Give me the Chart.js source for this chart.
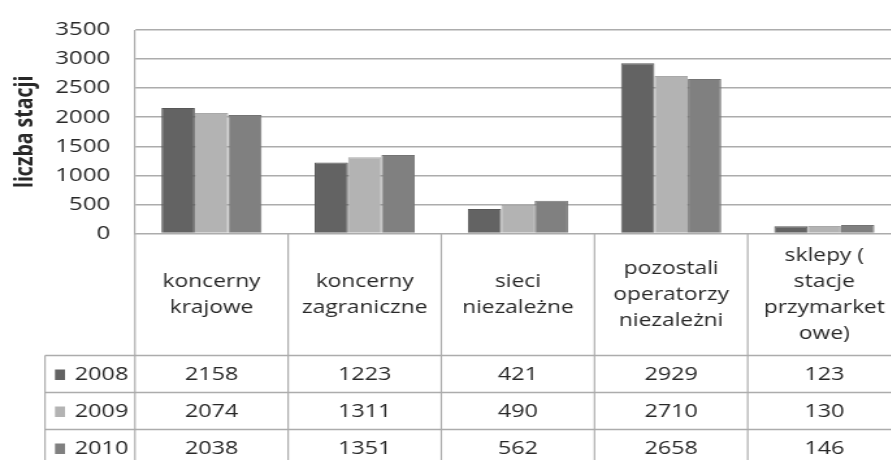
<!DOCTYPE html>
<html>
<head>
<meta charset="utf-8">
<script src="https://cdn.jsdelivr.net/npm/chart.js@4/dist/chart.umd.min.js"></script>
<style>
  html, body { margin: 0; padding: 0; background: #fff; overflow: hidden; width: 891px; height: 460px; }
  /* the drawing is laid out narrow and widened horizontally */
  #wrap { position: absolute; left: 0; top: 0; width: 693px; height: 460px; transform: scaleX(1.3); transform-origin: 0 0; }
</style>
</head>
<body>
<div id="wrap"><canvas id="chart"></canvas></div>
<script>
// Categories of fuel-station operators (multi-line labels)
const categories = [
  ['koncerny', 'krajowe'],
  ['koncerny', 'zagraniczne'],
  ['sieci', 'niezależne'],
  ['pozostali', 'operatorzy', 'niezależni'],
  ['sklepy (', 'stacje', 'przymarket', 'owe)']
];
const years = ['2008', '2009', '2010'];
const stations2008 = [2158, 1223, 421, 2929, 123];
const stations2009 = [2074, 1311, 490, 2710, 130];
const stations2010 = [2038, 1351, 562, 2658, 146];
const yMin = 0, yMax = 3500, yStep = 500;
const yTitle = 'liczba stacji';

const fills = ['#636363', '#b3b3b3', '#808080'];
const edges = ['#575757', '#a9a9a9', '#747474'];
const lineColor = '#acacac';
const textColor = '#282828';
const FONT = '"Open Sans", "DejaVu Sans", sans-serif';

// Data table drawn under the plot area: header row with categories,
// then one row per year with a colour key and the values.
const dataTable = {
  id: 'dataTable',
  afterDraw(chart) {
    const ctx = chart.ctx;
    const xs = chart.scales.x;
    const area = chart.chartArea;
    const n = chart.data.labels.length;
    const step = xs.getPixelForValue(1) - xs.getPixelForValue(0);
    const bounds = [];
    for (let i = 0; i <= n; i++) bounds.push(xs.getPixelForValue(i) - step / 2);

    const headTop = area.bottom;
    const headBottom = 355.5;
    const rowH = 37;
    const rows = chart.data.datasets.length;
    const tableBottom = headBottom + rowH * rows;
    const keyLeft = 34.6;

    ctx.save();
    ctx.strokeStyle = lineColor;
    // horizontal rules
    ctx.lineWidth = 1.6;
    for (let r = 0; r <= rows; r++) {
      const y = headBottom + r * rowH;
      ctx.beginPath(); ctx.moveTo(keyLeft, y); ctx.lineTo(bounds[n], y); ctx.stroke();
    }
    // vertical rules
    ctx.lineWidth = 1.2;
    for (let i = 0; i <= n; i++) {
      ctx.beginPath(); ctx.moveTo(bounds[i], headTop); ctx.lineTo(bounds[i], tableBottom); ctx.stroke();
    }
    ctx.beginPath(); ctx.moveTo(keyLeft, headBottom); ctx.lineTo(keyLeft, tableBottom); ctx.stroke();

    // category headers
    ctx.fillStyle = textColor;
    ctx.font = '17.5px ' + FONT;
    ctx.textAlign = 'center';
    ctx.textBaseline = 'middle';
    const lh = 26;
    const headMid = 295.5;
    chart.data.labels.forEach((lines, i) => {
      const cx = (bounds[i] + bounds[i + 1]) / 2;
      const y0 = headMid - (lines.length - 1) * lh / 2;
      lines.forEach((t, k) => ctx.fillText(t, cx, y0 + k * lh));
    });

    // year rows
    ctx.font = '18px ' + FONT;
    chart.data.datasets.forEach((ds, r) => {
      const cy = headBottom + r * rowH + rowH / 2 + 1;
      ctx.fillStyle = ds.backgroundColor;
      ctx.fillRect(42.3, cy - 5.5, 7.7, 10.5);
      ctx.fillStyle = textColor;
      ctx.textAlign = 'left';
      ctx.fillText(ds.label, 57.5, cy);
      ctx.textAlign = 'center';
      ds.data.forEach((v, i) => {
        ctx.fillText(String(v), (bounds[i] + bounds[i + 1]) / 2, cy);
      });
    });
    ctx.restore();
  }
};

const series = [stations2008, stations2009, stations2010];

new Chart(document.getElementById('chart'), {
  type: 'bar',
  data: {
    labels: categories,
    datasets: years.map((y, i) => ({
      label: y,
      data: series[i],
      backgroundColor: fills[i],
      borderColor: edges[i],
      borderWidth: 1,
      categoryPercentage: 0.654,
      barPercentage: 1.0
    }))
  },
  options: {
    responsive: true,
    maintainAspectRatio: false,
    animation: false,
    layout: { padding: { top: 25, right: 0, bottom: 226.5, left: 0 } },
    plugins: { legend: { display: false }, tooltip: { enabled: false } },
    scales: {
      x: { display: false, offset: true },
      y: {
        min: yMin, max: yMax,
        ticks: {
          stepSize: yStep, padding: 19, color: textColor,
          font: { family: FONT, size: 18.5 },
          callback: (v) => String(v)
        },
        grid: { color: lineColor, lineWidth: 1.6, drawTicks: false },
        border: { display: true, color: lineColor, width: 1.2 },
        title: {
          display: true, text: yTitle, color: textColor,
          font: { family: FONT, size: 19.5, weight: 'bold' },
          padding: { top: 8, bottom: 0 }
        },
        afterFit(scale) { scale.width = 103.8; }
      }
    }
  },
  plugins: [dataTable]
});
</script>
</body>
</html>
